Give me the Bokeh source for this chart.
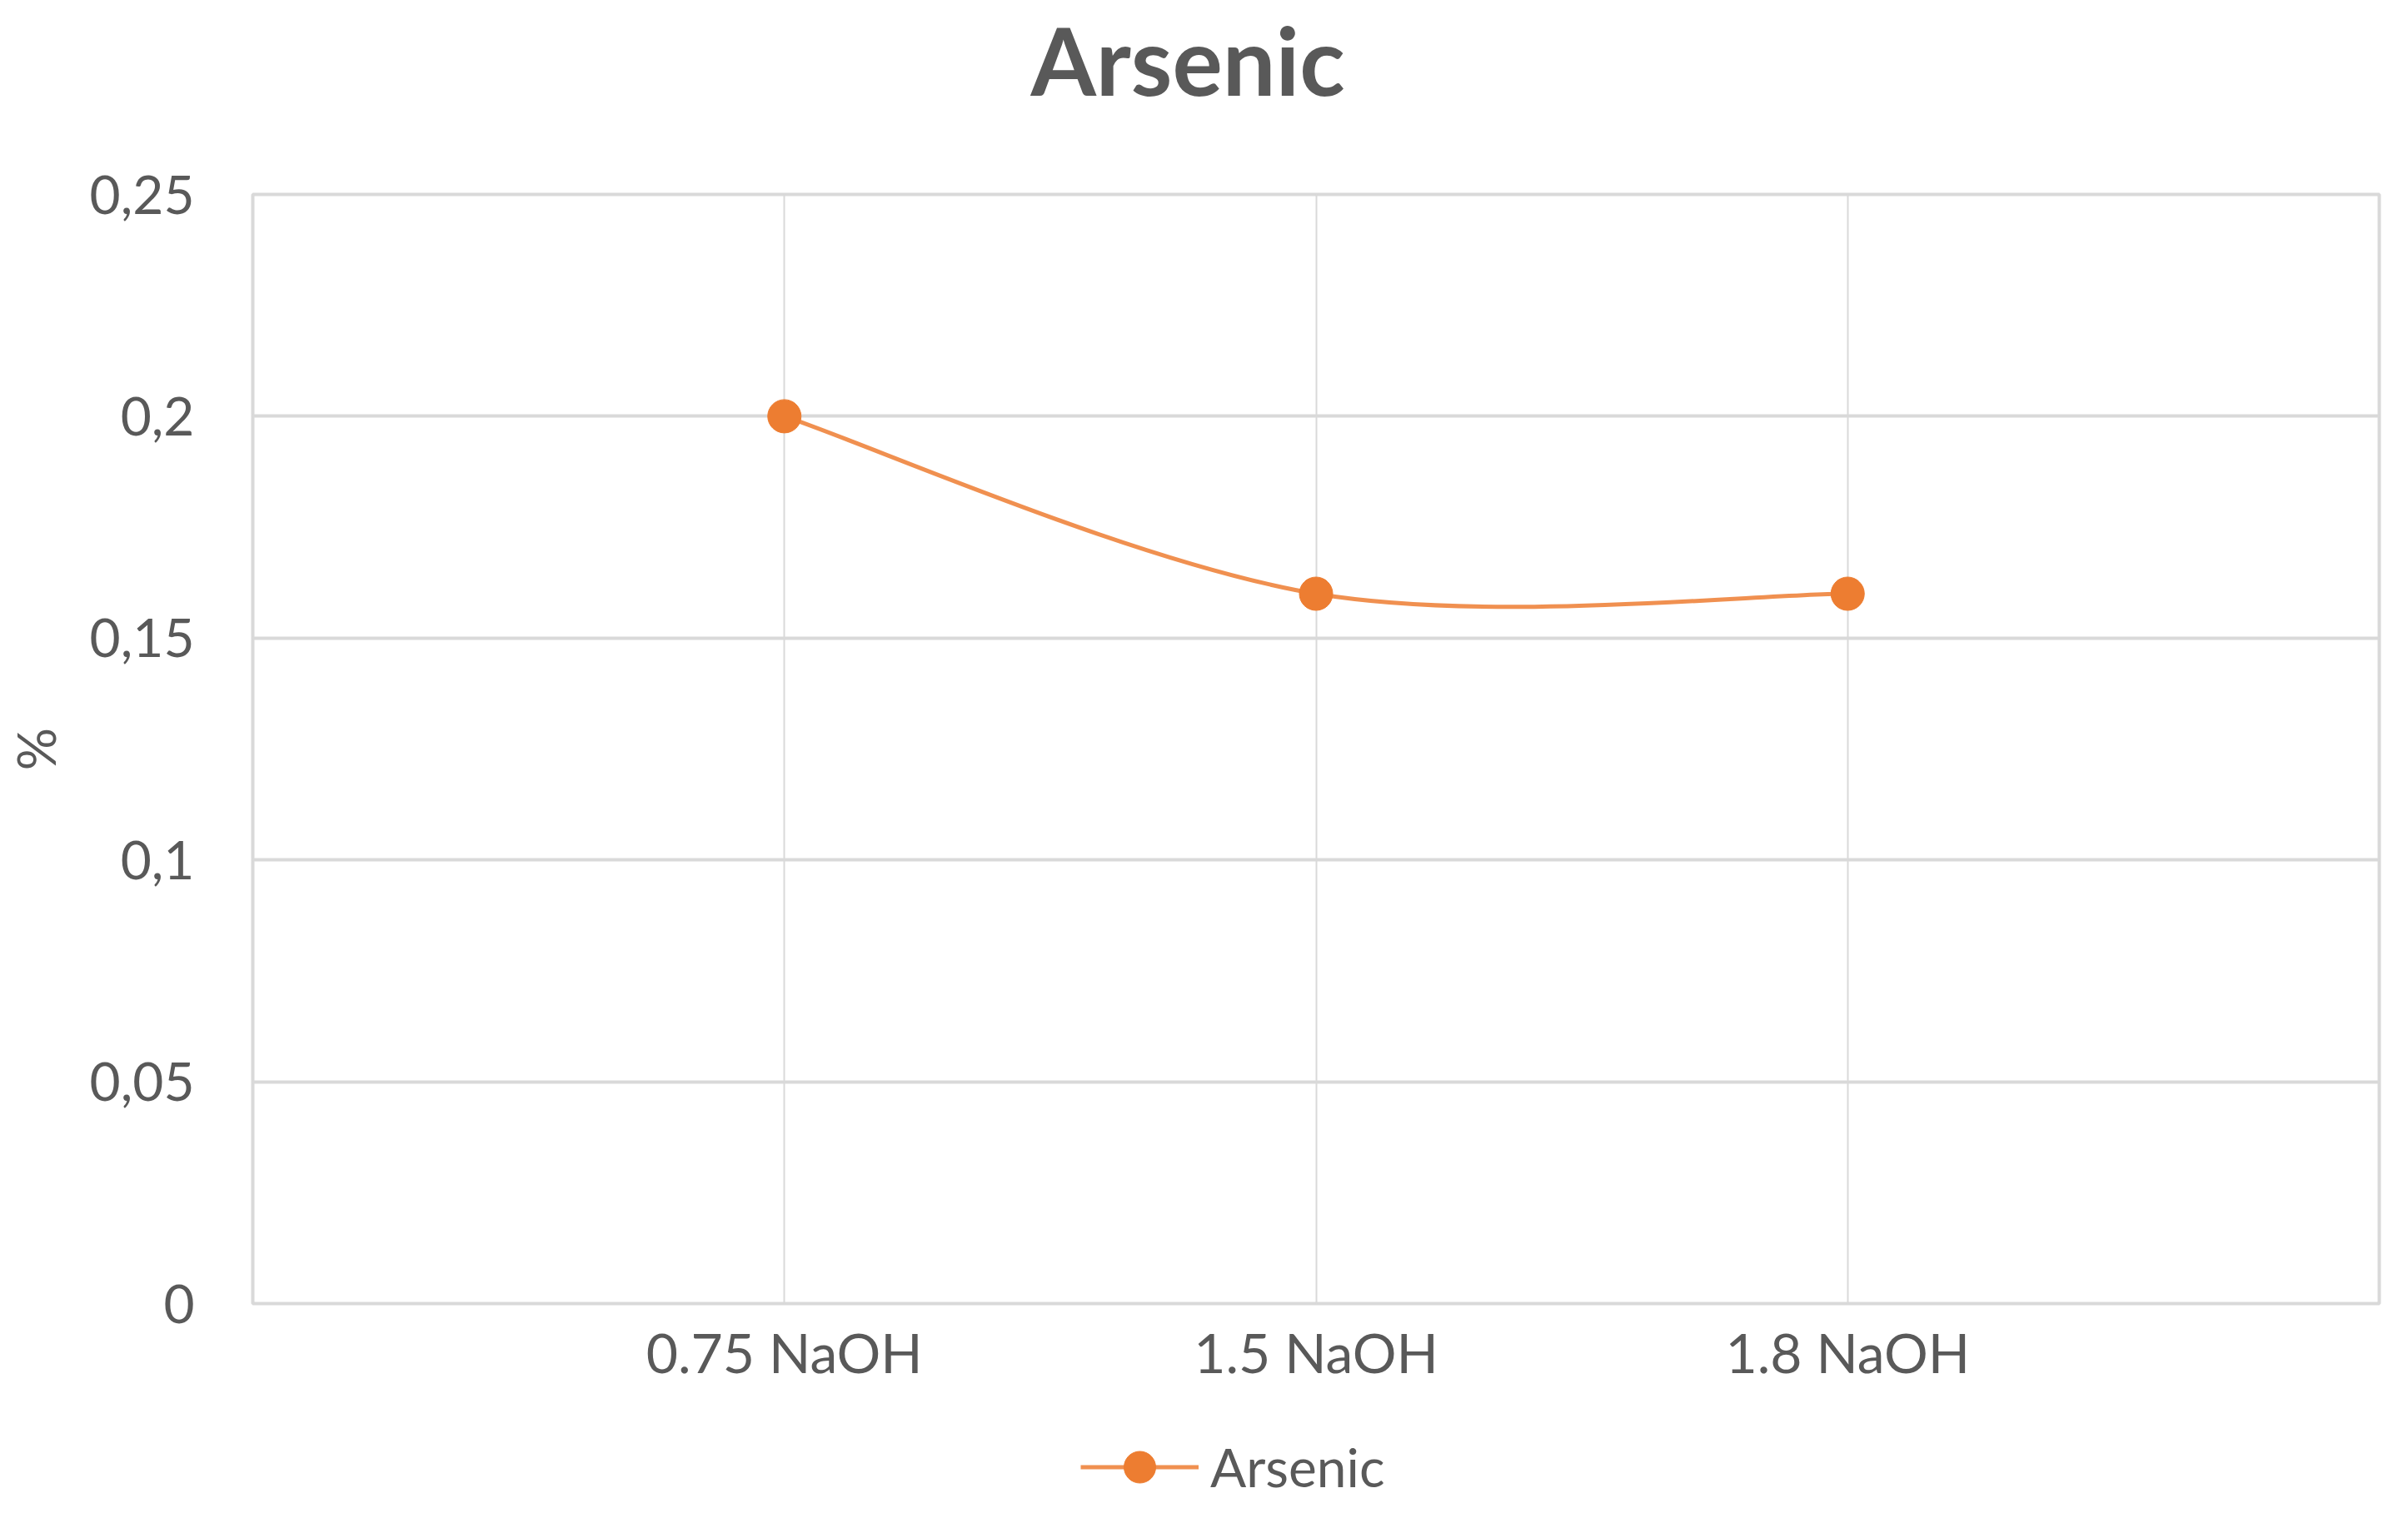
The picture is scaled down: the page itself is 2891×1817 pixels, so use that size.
from bokeh.plotting import figure
from bokeh.layouts import column
from bokeh.models import FixedTicker, Legend, LegendItem, Range1d, Title
from bokeh.embed import file_html
from bokeh.resources import INLINE

# ---- data ----
categories = ["0.75 NaOH", "1.5 NaOH", "1.8 NaOH"]
arsenic = [0.2, 0.16, 0.16]
y_ticks = [0, 0.05, 0.1, 0.15, 0.2, 0.25]
y_tick_labels = ["0", "0,05", "0,1", "0,15", "0,2", "0,25"]
series_name = "Arsenic"
y_label = "%"

ORANGE = "#ED7D31"
GRID = "#D9D9D9"
TEXT = "#595959"
FONT = "Lato"

xs = list(range(1, len(categories) + 1))

W = 2875
H_MAIN = 1695
H_LEG = 106

p = figure(width=W, height=H_MAIN, output_backend="svg", toolbar_location=None,
           x_range=Range1d(0, len(categories) + 1), y_range=Range1d(0, 0.25),
           min_border_left=292, min_border_right=19, min_border_top=224,
           min_border_bottom=130, background_fill_color="white",
           border_fill_color="white")

# spacer between frame and title, then the title itself
p.add_layout(Title(text=" ", text_font_size="10px", standoff=82), "above")
title = Title(text="Arsenic", align="left", offset=934, standoff=0,
              text_font=FONT, text_font_style="bold", text_font_size="113px",
              text_color=TEXT)
p.title = title

# smooth line (Catmull-Rom -> cubic bezier control points from the data)
pts = list(zip(xs, arsenic))
n = len(pts)
bx0, by0, bx1, by1, c0x, c0y, c1x, c1y = [], [], [], [], [], [], [], []
for i in range(n - 1):
    p0 = pts[i - 1] if i > 0 else pts[i]
    p1 = pts[i]
    p2 = pts[i + 1]
    p3 = pts[i + 2] if i + 2 < n else pts[i + 1]
    bx0.append(p1[0]); by0.append(p1[1])
    bx1.append(p2[0]); by1.append(p2[1])
    c0x.append(p1[0] + (p2[0] - p0[0]) / 6.0); c0y.append(p1[1] + (p2[1] - p0[1]) / 6.0)
    c1x.append(p2[0] - (p3[0] - p1[0]) / 6.0); c1y.append(p2[1] - (p3[1] - p1[1]) / 6.0)

p.bezier(x0=bx0, y0=by0, x1=bx1, y1=by1, cx0=c0x, cy0=c0y, cx1=c1x, cy1=c1y,
         line_color=ORANGE, line_width=5, line_alpha=0.85)
p.scatter(xs, arsenic, size=40, fill_color=ORANGE, line_color=ORANGE)

# axes
p.xaxis.ticker = FixedTicker(ticks=xs)
p.xaxis.major_label_overrides = {x: c for x, c in zip(xs, categories)}
p.yaxis.ticker = FixedTicker(ticks=y_ticks)
p.yaxis.major_label_overrides = {t: l for t, l in zip(y_ticks, y_tick_labels)}
for ax in (p.xaxis, p.yaxis):
    ax.axis_line_color = None
    ax.major_tick_line_color = None
    ax.minor_tick_line_color = None
    ax.major_label_text_font = FONT
    ax.major_label_text_color = TEXT
p.xaxis.major_label_text_font_size = "66px"
p.yaxis.major_label_text_font_size = "64px"
p.xaxis.major_label_standoff = 12
p.yaxis.major_label_standoff = 64
p.yaxis.axis_label = y_label
p.yaxis.axis_label_text_font = FONT
p.yaxis.axis_label_text_font_style = "normal"
p.yaxis.axis_label_text_font_size = "64px"
p.yaxis.axis_label_text_color = TEXT
p.yaxis.axis_label_standoff = 24

p.xgrid.grid_line_color = GRID
p.xgrid.grid_line_width = 2
p.ygrid.grid_line_color = GRID
p.ygrid.grid_line_width = 4
p.outline_line_color = GRID
p.outline_line_width = 4

# legend strip below the chart (proxy renderers drawn outside its visible range)
leg = figure(width=W, height=H_LEG, output_backend="svg", toolbar_location=None,
             x_axis_type=None, y_axis_type=None, min_border=0,
             x_range=Range1d(100, 101), y_range=Range1d(100, 101),
             background_fill_color="white", border_fill_color="white")
leg.outline_line_color = None
lg_line = leg.line(xs, arsenic, line_color=ORANGE, line_width=5, line_alpha=0.85)
lg_dot = leg.scatter(xs, arsenic, size=40, fill_color=ORANGE, line_color=ORANGE)
legend = Legend(items=[LegendItem(label=series_name, renderers=[lg_line, lg_dot])],
                location=(994, -8), orientation="horizontal",
                border_line_color=None, background_fill_alpha=0,
                label_text_font=FONT, label_text_font_size="64px",
                label_text_color=TEXT, glyph_width=142, glyph_height=95,
                label_standoff=14, padding=0, margin=0)
leg.add_layout(legend, "center")

layout = column(p, leg, spacing=0)
open("out.html", "w").write(file_html(layout, INLINE))
